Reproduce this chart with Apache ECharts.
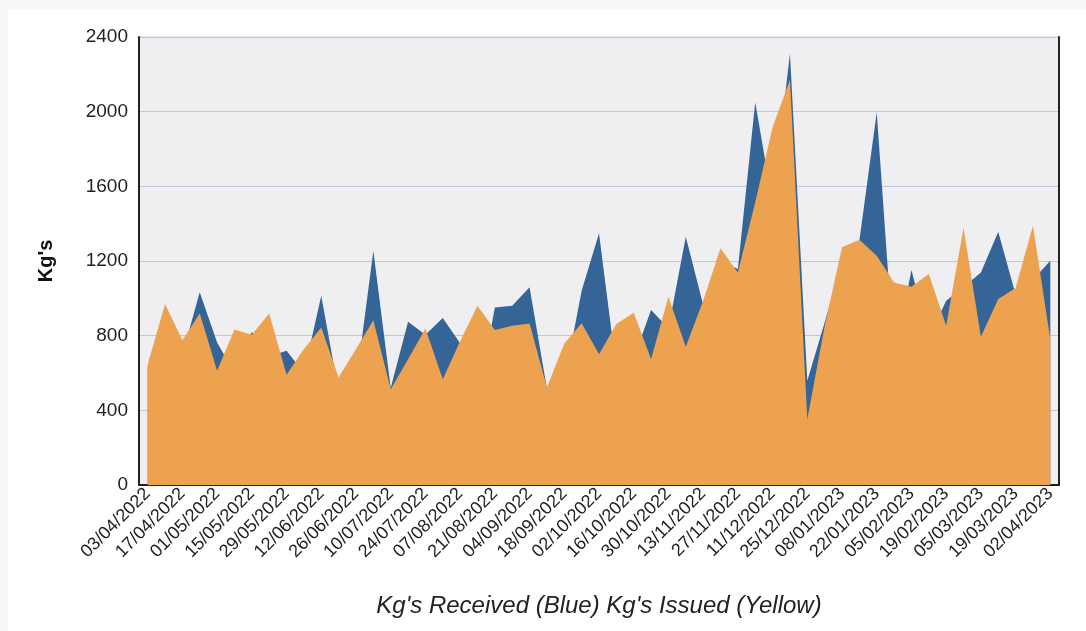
<!DOCTYPE html>
<html>
<head>
<meta charset="utf-8">
<script src="https://cdn.jsdelivr.net/npm/echarts@6/dist/echarts.min.js"></script>
<style>
  html, body { margin: 0; padding: 0; background: #f6f6f7; }
  #wrap { position: absolute; left: 0; top: 0; width: 1086px; height: 631px; background: #f6f6f7; }
  #chart { position: absolute; left: 8px; top: 9px; width: 1078px; height: 622px; background: #ffffff; }
</style>
</head>
<body>
<div id="wrap"><div id="chart"></div></div>
<script>
const weeks = [
  "03/04/2022","10/04/2022","17/04/2022","24/04/2022","01/05/2022","08/05/2022","15/05/2022","22/05/2022",
  "29/05/2022","05/06/2022","12/06/2022","19/06/2022","26/06/2022","03/07/2022","10/07/2022","17/07/2022",
  "24/07/2022","31/07/2022","07/08/2022","14/08/2022","21/08/2022","28/08/2022","04/09/2022","11/09/2022",
  "18/09/2022","25/09/2022","02/10/2022","09/10/2022","16/10/2022","23/10/2022","30/10/2022","06/11/2022",
  "13/11/2022","20/11/2022","27/11/2022","04/12/2022","11/12/2022","18/12/2022","25/12/2022","01/01/2023",
  "08/01/2023","15/01/2023","22/01/2023","29/01/2023","05/02/2023","12/02/2023","19/02/2023","26/02/2023",
  "05/03/2023","12/03/2023","19/03/2023","26/03/2023","02/04/2023"
];
const kgReceived = [
  630, 950, 700, 1032, 763, 600, 820, 690, 719, 600, 1014, 500, 540, 1255, 520, 874,
  805, 894, 760, 450, 951, 960, 1059, 515, 555, 1041, 1348, 620, 680, 937, 840, 1330,
  965, 1200, 1157, 2051, 1510, 2311, 558, 870, 1200, 1310, 1997, 680, 1152, 790, 987, 1060,
  1139, 1357, 1020, 1100, 1202
];
const kgIssued = [
  645, 969, 776, 919, 612, 833, 805, 919, 590, 728, 844, 576, 728, 883, 513, 674,
  839, 567, 770, 960, 830, 853, 865, 522, 758, 867, 701, 862, 923, 674, 1008, 740,
  987, 1268, 1139, 1515, 1917, 2171, 352, 850, 1273, 1314, 1228, 1085, 1062, 1130, 853, 1377,
  794, 996, 1055, 1389, 781
];
const yTicks = [0, 400, 800, 1200, 1600, 2000, 2400];
const yTitle = "Kg's";
const xTitle = "Kg's Received (Blue) Kg's Issued (Yellow)";

const chart = echarts.init(document.getElementById('chart'), null, { renderer: 'canvas' });
const FONT = "'Liberation Sans', Arial, sans-serif";
chart.setOption({
  animation: false,
  backgroundColor: '#ffffff',
  grid: {
    left: 131, right: 27, top: 28, bottom: 146,
    show: true, backgroundColor: '#efeef0', borderColor: '#cdcde2', borderWidth: 1
  },
  xAxis: {
    type: 'category',
    data: weeks,
    boundaryGap: true,
    name: xTitle,
    nameLocation: 'middle',
    nameGap: 109,
    nameTextStyle: { fontFamily: FONT, fontSize: 24, fontStyle: 'italic', color: '#222' },
    axisLine: { show: true, lineStyle: { color: '#222', width: 2 } },
    axisTick: { show: false },
    axisLabel: { interval: 1, rotate: 45, margin: 6, fontFamily: FONT, fontSize: 18, color: '#222' },
    splitLine: { show: false }
  },
  yAxis: [{
    type: 'value',
    min: yTicks[0], max: yTicks[yTicks.length - 1], interval: yTicks[1] - yTicks[0],
    name: yTitle,
    nameLocation: 'middle',
    nameGap: 83,
    nameTextStyle: { fontFamily: FONT, fontSize: 20, fontWeight: 'bold', color: '#111' },
    axisLine: { show: true, lineStyle: { color: '#222', width: 2 } },
    axisTick: { show: false },
    axisLabel: { margin: 11, fontFamily: FONT, fontSize: 19, color: '#222', formatter: v => String(v) },
    splitLine: { show: true, lineStyle: { color: '#c4c4e2', width: 1 } }
  }, {
    type: 'value',
    position: 'right',
    min: yTicks[0], max: yTicks[yTicks.length - 1], interval: yTicks[1] - yTicks[0],
    axisLine: { show: true, lineStyle: { color: '#222', width: 2 } },
    axisTick: { show: false },
    axisLabel: { show: false },
    splitLine: { show: false }
  }],
  series: [{
    name: 'Received',
    type: 'line',
    data: kgReceived,
    showSymbol: false,
    symbol: 'none',
    lineStyle: { width: 0, color: '#356597' },
    itemStyle: { color: '#356597' },
    areaStyle: { color: '#356597', opacity: 1 },
    z: 2
  }, {
    name: 'Issued',
    type: 'line',
    data: kgIssued,
    showSymbol: false,
    symbol: 'none',
    lineStyle: { width: 0, color: '#eca24f' },
    itemStyle: { color: '#eca24f' },
    areaStyle: { color: '#eca24f', opacity: 1 },
    z: 3
  }]
});
</script>
</body>
</html>
